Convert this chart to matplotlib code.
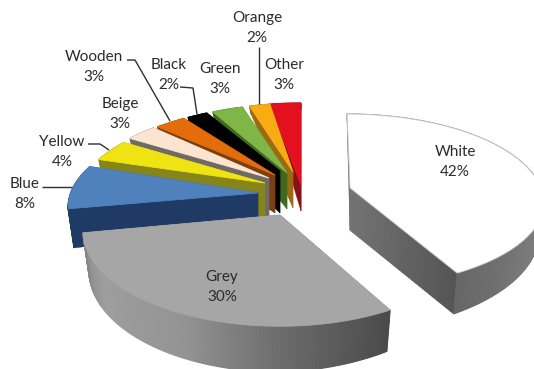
import numpy as np
import matplotlib
matplotlib.use('Agg')
import matplotlib.pyplot as plt
from matplotlib.patches import Polygon

# paint colour shares, clockwise from twelve o'clock
colours = ['White', 'Grey', 'Blue', 'Yellow', 'Beige', 'Wooden', 'Black', 'Green', 'Orange', 'Other']
shares = [42, 30, 8, 4, 3, 3, 2, 3, 2, 3]

top_fill = ['#ffffff', '#a6a6a6', '#4f81bd', '#f0e312', '#fbe5d0', '#e46c0a', '#000000', '#80b548', '#f9ab14', '#e3101f']
wall_fill = ['#666666', '#808080', '#1f3b65', '#85851c', '#6f6a65', '#7a4012', '#000000', '#3f6a1e', '#9a6a10', '#8a0f18']

# centre of each exploded slice's rim, in pixels
centres = [(347, 188), (280, 215), (265, 192), (274, 185), (280, 181), (284, 180), (288, 179), (294, 178), (301, 177), (301, 177)]
# front half of the rim is slightly flatter or deeper per slice
front_scale = [0.95, 1.06, 1, 1, 1, 1, 1, 1, 1, 1]
# inner point of each slice: x, top y, bottom y
points = [(350, 188, 230), (280, 215, 258), (258, 193, 225), (265, 183, 220), (269, 178, 218), (275, 175, 213),
	(280, 171, 213), (287, 173, 209), (293, 172, 208), (301, 185, 211)]

# label centres, two lines each
label_pos = [(455, 162), (222, 287), (25, 194), (62, 152), (120, 114), (94, 67), (169, 75), (220, 79), (257, 28), (284, 75)]

# leader lines
leaders = {
	'Blue': [(42, 187), (72, 187)],
	'Yellow': [(88, 144), (100, 144), (109, 150)],
	'Wooden': [(127, 60), (135, 60), (170, 121)],
	'Black': [(180, 87), (193, 88), (197, 114)],
	'Orange': [(259, 47), (259, 104)],
}

# lighting round the rim and along the cut faces
rim_ramps = {
	'White': ([60, 100, 125, 151], [0.55, 0.52, 0.47, 0.40]),
	'Grey': ([151, 175, 205, 235, 260], [0.29, 0.40, 0.58, 0.62, 0.52]),
}
cut_ramps = {
	'White': (0.45, 0.33),
}

RX = 194.0
RY = 86.8
PERSP = 0.173


def project(theta, front):
	# theta in degrees clockwise from the top; y grows downward
	t = np.radians(theta)
	u, v = np.sin(t), np.cos(t)
	w = 1 + PERSP * v
	y = -RY * v / w
	return RX * u / w, y * front if y > 0 else y


def drop(x, y):
	# same rim point on the bottom face of the slab
	d = 38 + 0.07 * y if y > 0 else 38 + 0.42 * y
	d -= 0.03 * max(x, 0)
	return 0.97 * x, y + max(d, 0)


def grey_level(level):
	return (level, level, level)


def draw_slice(ax, name, a0, a1, centre, front, point, top, wall):
	cx, cy = centre
	px, py, pb = point
	angles = np.linspace(a0, a1, int(abs(a1 - a0)) + 2)
	rim = [project(a, front) for a in angles]

	# cut faces first, start edge then end edge
	for (x, y), ramp in ((rim[0], None), (rim[-1], cut_ramps.get(name))):
		bx, by = drop(x, y)
		x0, y0, x1, y1 = cx + x, cy + y, cx + bx, cy + by
		if ramp is None:
			ax.add_patch(Polygon([(px, py), (x0, y0), (x1, y1), (px, pb)], fc=wall, ec=wall, lw=0.3))
		else:
			steps = np.linspace(0, 1, 31)
			for s0, s1 in zip(steps[:-1], steps[1:]):
				c = grey_level(ramp[0] + (ramp[1] - ramp[0]) * s0)
				quad = [(px + (x0 - px) * s0, py + (y0 - py) * s0), (px + (x0 - px) * s1, py + (y0 - py) * s1),
					(px + (x1 - px) * s1, pb + (y1 - pb) * s1), (px + (x1 - px) * s0, pb + (y1 - pb) * s0)]
				ax.add_patch(Polygon(quad, fc=c, ec=c, lw=0.8))

	# outer rim
	for i in range(len(rim) - 1):
		p0, p1 = rim[i], rim[i + 1]
		b0, b1 = drop(*p0), drop(*p1)
		if name in rim_ramps:
			c = grey_level(np.interp(angles[i], *rim_ramps[name]))
		else:
			c = wall
		quad = [(cx + p0[0], cy + p0[1]), (cx + p1[0], cy + p1[1]), (cx + b1[0], cy + b1[1]), (cx + b0[0], cy + b0[1])]
		ax.add_patch(Polygon(quad, fc=c, ec=c, lw=0.8))

	# top face
	outline = [(px, py)] + [(cx + x, cy + y) for x, y in rim]
	edge = '#c4c4c4' if name == 'White' else top
	ax.add_patch(Polygon(outline, fc=top, ec=edge, lw=0.6))


plt.rcParams['font.family'] = ['Lato', 'DejaVu Sans']
fig = plt.figure(figsize=(5.34, 3.69), dpi=100)
ax = fig.add_axes([0, 0, 1, 1])
ax.set_xlim(0, 534)
ax.set_ylim(369, 0)
ax.axis('off')

edges = np.cumsum([0] + shares) * 3.6

# back slices first so the ones in front overlap them
for i in range(len(colours) - 1, -1, -1):
	draw_slice(ax, colours[i], edges[i], edges[i + 1], centres[i], front_scale[i], points[i], top_fill[i], wall_fill[i])

for pts in leaders.values():
	xs, ys = zip(*pts)
	ax.plot(xs, ys, color='#303030', lw=1.0, solid_capstyle='butt')

for name, share, (x, y) in zip(colours, shares, label_pos):
	ax.text(x, y, '%s\n%d%%' % (name, share), ha='center', va='center', fontsize=11, color='#2b2b2b', linespacing=1.6)

fig.savefig('out.png', dpi=100)
